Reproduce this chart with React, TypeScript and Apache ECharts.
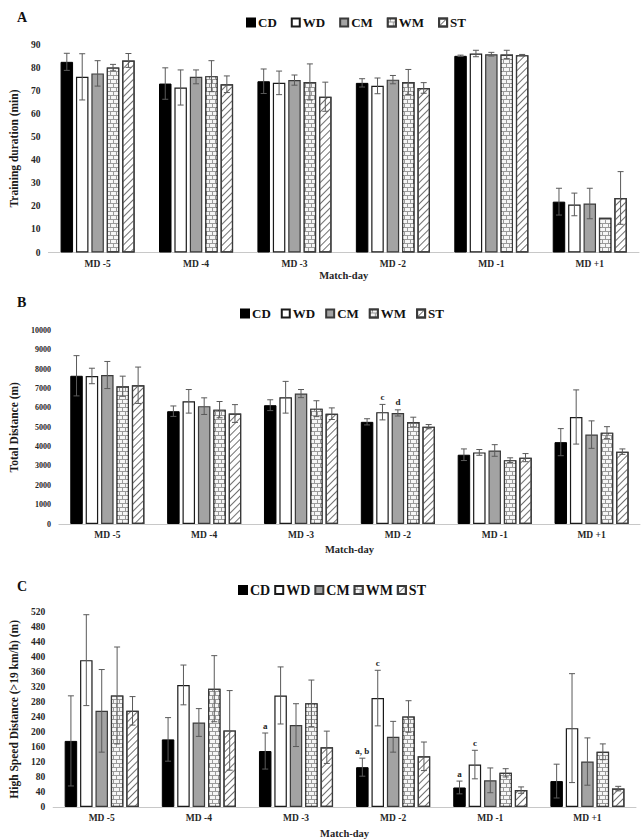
import React, { useEffect, useRef } from 'react';
import * as echarts from 'echarts';

const categories = ['MD -5', 'MD -4', 'MD -3', 'MD -2', 'MD -1', 'MD +1'];
const groups = ['CD', 'WD', 'CM', 'WM', 'ST'];

// Panel A: training duration (min), rows = groups, cols = match-days
const durationMean = [
  [82.5, 73.1, 74.1, 73.4, 85.1, 22.0],
  [76.0, 71.4, 73.4, 72.1, 86.1, 20.8],
  [77.5, 76.0, 74.6, 74.8, 85.8, 21.2],
  [80.0, 76.3, 73.8, 73.8, 85.7, 15.0],
  [83.1, 72.8, 67.4, 71.2, 85.4, 23.6],
];
const durationSD = [
  [3.7, 6.8, 5.3, 1.8, 0.3, 5.8],
  [10.0, 7.6, 5.1, 3.4, 1.4, 4.9],
  [5.5, 3.0, 2.2, 1.8, 0.8, 6.6],
  [1.4, 6.7, 7.8, 5.4, 1.8, 0],
  [3.0, 3.6, 6.3, 2.3, 0.3, 11.4],
];

// Panel B: total distance (m)
const distanceMean = [
  [7660, 5830, 6140, 5280, 3580, 4230],
  [7650, 6340, 6550, 5780, 3700, 5530],
  [7700, 6090, 6740, 5740, 3800, 4620],
  [7120, 5910, 5960, 5270, 3300, 4720],
  [7170, 5710, 5700, 5030, 3430, 3740],
];
const distanceSD = [
  [1040, 270, 280, 160, 300, 700],
  [400, 610, 820, 400, 150, 1400],
  [700, 430, 210, 160, 300, 710],
  [520, 420, 410, 250, 120, 310],
  [940, 460, 300, 110, 210, 140],
];

// Panel C: high speed distance (>19 km/h) (m)
const hsdMean = [
  [176, 180, 149, 106, 52, 69],
  [391, 325, 297, 290, 113, 210],
  [256, 225, 218, 187, 71, 121],
  [297, 315, 276, 241, 91, 147],
  [256, 204, 159, 135, 45, 49],
];
const hsdSD = [
  [120, 58, 48, 24, 17, 45],
  [121, 53, 76, 74, 38, 145],
  [110, 37, 57, 41, 33, 63],
  [129, 88, 62, 42, 11, 21],
  [38, 106, 43, 38, 8.5, 6],
];

// significance letters: day index, group index, text
const durationNotes: { day: number; group: number; text: string }[] = [];
const distanceNotes = [
  { day: 3, group: 1, text: 'c' },
  { day: 3, group: 2, text: 'd' },
];
const hsdNotes = [
  { day: 2, group: 0, text: 'a' },
  { day: 3, group: 0, text: 'a, b' },
  { day: 3, group: 1, text: 'c' },
  { day: 4, group: 0, text: 'a' },
  { day: 4, group: 1, text: 'c' },
];

// y-axis scales
const durationAxis = { min: 0, max: 90, interval: 10 };
const distanceAxis = { min: 0, max: 10000, interval: 1000 };
const hsdAxis = { min: 0, max: 520, interval: 40 };

const FONT = '"Liberation Serif", "Times New Roman", serif';
const BAR_W = 12.5;
const BAR_GAP = 2.9;
const PITCH = BAR_W + BAR_GAP;

const groupStyles: any[] = [
  { color: '#000000', borderColor: '#000000', borderWidth: 1 },
  { color: '#ffffff', borderColor: '#1a1a1a', borderWidth: 1.2 },
  { color: '#a3a3a3', borderColor: '#3a3a3a', borderWidth: 1.2 },
  {
    color: '#9a9a9a',
    borderColor: '#3a3a3a',
    borderWidth: 1.2,
    decal: {
      symbol: 'rect',
      symbolSize: 1,
      color: '#f6f6f6',
      dashArrayX: [[5, 1], [2, 1, 3, 0]],
      dashArrayY: [3, 1],
      rotation: 0,
    },
  },
  {
    color: '#ffffff',
    borderColor: '#3a3a3a',
    borderWidth: 1.2,
    decal: {
      symbol: 'rect',
      symbolSize: 1,
      color: '#707070',
      dashArrayX: [1, 0],
      dashArrayY: [1, 3.2],
      rotation: -Math.PI / 4,
    },
  },
];

export default function App() {
  const ref = useRef<HTMLDivElement>(null);

  useEffect(() => {
    if (!ref.current) return;
    const chart = echarts.init(ref.current, null, { renderer: 'svg' });

    const panels = [
      {
        mean: durationMean, sd: durationSD, notes: durationNotes, axis: durationAxis,
        yName: 'Training duration (min)', grid: { left: 41, top: 44.5, width: 598, height: 208 },
        yLabelSize: 9.5, yNameGap: 20, xNameGap: 17, letter: 'A', letterY: 18,
        legend: { left: 246, top: 16, itemGap: 14, fontSize: 13 },
      },
      {
        mean: distanceMean, sd: distanceSD, notes: distanceNotes, axis: distanceAxis,
        yName: 'Total Distance (m)', grid: { left: 43, top: 330.5, width: 597, height: 193.5 },
        yLabelSize: 8, yNameGap: 23, xNameGap: 20, letter: 'B', letterY: 303,
        legend: { left: 240, top: 307, itemGap: 10, fontSize: 13 },
      },
      {
        mean: hsdMean, sd: hsdSD, notes: hsdNotes, axis: hsdAxis,
        yName: 'High Speed Distance (>19 km/h) (m)', grid: { left: 41, top: 611.7, width: 595, height: 204.3 },
        yLabelSize: 9.5, yNameGap: 23, xNameGap: 21, letter: 'C', letterY: 587,
        legend: { left: 238, top: 583, itemGap: 4, fontSize: 14 },
      },
    ];

    const grid: any[] = [];
    const xAxis: any[] = [];
    const yAxis: any[] = [];
    const legend: any[] = [];
    const series: any[] = [];
    const graphic: any[] = [];

    panels.forEach((p, pi) => {
      grid.push({ ...p.grid, containLabel: false });
      xAxis.push({
        type: 'category',
        gridIndex: pi,
        data: categories,
        axisLine: { show: true, lineStyle: { color: '#c8c8c8', width: 1 } },
        axisTick: { show: false },
        axisLabel: { color: '#262626', fontFamily: FONT, fontWeight: 'bold', fontSize: 9.5, margin: 6 },
        name: 'Match-day',
        nameLocation: 'middle',
        nameGap: p.xNameGap,
        nameTextStyle: { color: '#262626', fontFamily: FONT, fontWeight: 'bold', fontSize: 10.5 },
      });
      yAxis.push({
        type: 'value',
        gridIndex: pi,
        min: p.axis.min,
        max: p.axis.max,
        interval: p.axis.interval,
        axisLine: { show: false },
        axisTick: { show: false },
        splitLine: { show: false },
        axisLabel: {
          color: '#262626',
          fontFamily: FONT,
          fontWeight: 'bold',
          fontSize: p.yLabelSize,
          margin: 8,
          formatter: (v: number) => String(v),
        },
        name: p.yName,
        nameLocation: 'middle',
        nameGap: p.yNameGap,
        nameTextStyle: { color: '#1a1a1a', fontFamily: FONT, fontWeight: 'bold', fontSize: 11.5 },
      });
      legend.push({
        left: p.legend.left,
        top: p.legend.top,
        padding: 0,
        itemGap: p.legend.itemGap,
        itemWidth: 8,
        itemHeight: 8,
        icon: 'rect',
        data: groups,
        selectedMode: false,
        textStyle: { fontFamily: FONT, fontWeight: 'bold', fontSize: p.legend.fontSize, color: '#111111', padding: [0, 0, 0, -2] },
      });
      graphic.push({
        type: 'text',
        left: 17,
        top: p.letterY - 8,
        style: { text: p.letter, font: `bold 14px ${FONT}`, fill: '#111111' },
      });

      groups.forEach((g, gi) => {
        series.push({
          type: 'bar',
          name: g,
          xAxisIndex: pi,
          yAxisIndex: pi,
          data: p.mean[gi],
          barWidth: BAR_W,
          barGap: `${(BAR_GAP / BAR_W) * 100}%`,
          itemStyle: groupStyles[gi],
          emphasis: { disabled: true },
        });
      });

      const errData: number[][] = [];
      groups.forEach((_, gi) => {
        categories.forEach((__, di) => {
          errData.push([di, gi, p.mean[gi][di], p.sd[gi][di]]);
        });
      });
      const notes = p.notes;
      series.push({
        type: 'custom',
        xAxisIndex: pi,
        yAxisIndex: pi,
        z: 5,
        silent: true,
        data: errData,
        encode: { x: 0, y: 2 },
        renderItem: (params: any, api: any) => {
          const day = api.value(0);
          const gi = api.value(1);
          const m = api.value(2);
          const sd = api.value(3);
          const top = api.coord([day, m + sd]);
          const bot = api.coord([day, m - sd]);
          const x = top[0] + (gi - 2) * PITCH;
          const children: any[] = [];
          const st = { stroke: '#5a5a5a', lineWidth: 1 };
          if (sd > 0) {
            children.push({ type: 'line', shape: { x1: x, y1: top[1], x2: x, y2: bot[1] }, style: st });
            children.push({ type: 'line', shape: { x1: x - 3, y1: top[1], x2: x + 3, y2: top[1] }, style: st });
            children.push({ type: 'line', shape: { x1: x - 3, y1: bot[1], x2: x + 3, y2: bot[1] }, style: st });
          }
          const note = notes.find((n) => n.day === day && n.group === gi);
          if (note) {
            children.push({
              type: 'text',
              x,
              y: top[1] - 3,
              style: {
                text: note.text,
                align: 'center',
                verticalAlign: 'bottom',
                font: `bold 9px ${FONT}`,
                fill: '#222222',
              },
            });
          }
          return { type: 'group', children };
        },
      });
    });

    chart.setOption({
      animation: false,
      backgroundColor: '#ffffff',
      grid,
      xAxis,
      yAxis,
      legend,
      series,
      graphic,
    });

    return () => chart.dispose();
  }, []);

  return (
    <div
      ref={ref}
      style={{ position: 'absolute', left: 0, top: 0, width: 642, height: 840, background: '#fff' }}
    />
  );
}
